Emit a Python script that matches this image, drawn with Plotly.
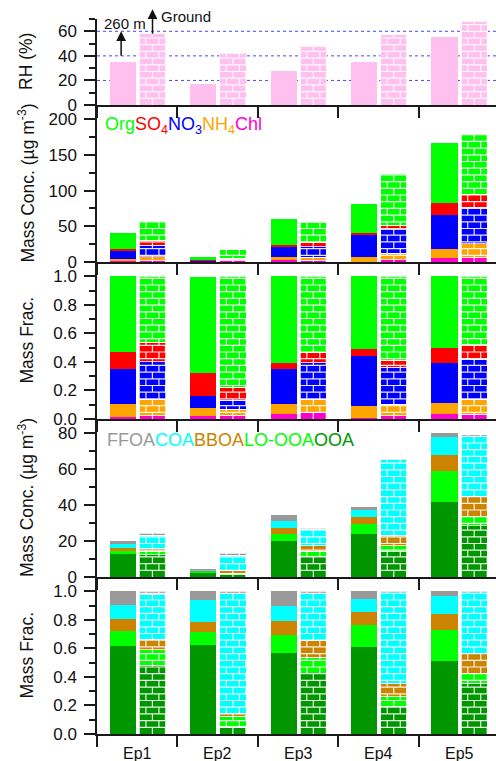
import plotly.graph_objects as go

# ---------------------------------------------------------------- data
episodes = ["Ep1", "Ep2", "Ep3", "Ep4", "Ep5"]

# relative humidity (%)
rh_260m = [35, 17, 28, 35, 55]
rh_ground = [58, 42, 48, 57, 68]
rh_gridlines = [20, 40, 60]

# PM1 species mass concentrations (ug m-3), 260 m site
chl_conc_260m = [0.8, 0.3, 2.8, 0.5, 5.6]
nh4_conc_260m = [3.4, 0.5, 4.2, 7.0, 12.6]
no3_conc_260m = [10.7, 0.6, 14.4, 29.8, 47.5]
so4_conc_260m = [3.3, 1.2, 2.8, 3.7, 16.8]
org_conc_260m = [22.4, 4.9, 35.9, 40.1, 83.9]
# PM1 species mass concentrations (ug m-3), ground site
chl_conc_ground = [1.9, 1.5, 2.3, 3.3, 7.0]
nh4_conc_ground = [5.6, 1.4, 4.7, 8.8, 18.6]
no3_conc_ground = [15.8, 1.0, 14.4, 33.1, 50.9]
so4_conc_ground = [7.0, 1.3, 6.6, 6.5, 18.6]
org_conc_ground = [27.0, 12.0, 27.9, 72.3, 84.9]

# PM1 species mass fractions, 260 m site
chl_frac_260m = [0.016, 0.021, 0.035, 0.009, 0.035]
nh4_frac_260m = [0.089, 0.056, 0.070, 0.082, 0.079]
no3_frac_260m = [0.245, 0.084, 0.247, 0.352, 0.280]
so4_frac_260m = [0.119, 0.163, 0.042, 0.047, 0.103]
org_frac_260m = [0.531, 0.669, 0.606, 0.510, 0.503]
# PM1 species mass fractions, ground site
chl_frac_ground = [0.023, 0.028, 0.044, 0.023, 0.035]
nh4_frac_ground = [0.117, 0.042, 0.096, 0.080, 0.105]
no3_frac_ground = [0.261, 0.061, 0.254, 0.261, 0.280]
so4_frac_ground = [0.137, 0.093, 0.075, 0.046, 0.102]
org_frac_ground = [0.462, 0.776, 0.531, 0.590, 0.478]

# OA factor mass concentrations (ug m-3), 260 m site
ooa_conc_260m = [12.9, 2.6, 20.0, 23.9, 41.8]
loooa_conc_260m = [1.5, 0.6, 3.9, 5.9, 17.3]
bboa_conc_260m = [1.8, 0.2, 3.5, 3.6, 9.0]
coa_conc_260m = [2.3, 0.5, 3.9, 3.9, 9.7]
ffoa_conc_260m = [1.5, 0.4, 3.2, 1.5, 2.2]
# OA factor mass concentrations (ug m-3), ground site
ooa_conc_ground = [12.5, 1.3, 11.6, 14.0, 28.5]
loooa_conc_ground = [1.9, 0.9, 2.8, 3.3, 5.1]
bboa_conc_ground = [1.3, 1.2, 3.1, 6.0, 11.0]
coa_conc_ground = [7.6, 8.7, 8.8, 42.0, 33.5]
ffoa_conc_ground = [1.1, 1.1, 0.9, 0.5, 1.2]

# OA factor mass fractions, 260 m site
ooa_frac_260m = [0.614, 0.621, 0.568, 0.607, 0.509]
loooa_frac_260m = [0.106, 0.092, 0.124, 0.155, 0.222]
bboa_frac_260m = [0.084, 0.074, 0.098, 0.091, 0.108]
coa_frac_260m = [0.098, 0.150, 0.105, 0.091, 0.128]
ffoa_frac_260m = [0.098, 0.063, 0.105, 0.056, 0.033]
# OA factor mass fractions, ground site
ooa_frac_ground = [0.480, 0.056, 0.421, 0.194, 0.357]
loooa_frac_ground = [0.110, 0.068, 0.116, 0.068, 0.066]
bboa_frac_ground = [0.075, 0.019, 0.120, 0.091, 0.142]
coa_frac_ground = [0.310, 0.841, 0.324, 0.642, 0.430]
ffoa_frac_ground = [0.025, 0.016, 0.019, 0.005, 0.005]

# ---------------------------------------------------------------- styles
FONT = "Liberation Sans, Arial, sans-serif"
AX = "#1a1a1a"
C_RH = "#FFBFEF"
C_ORG, C_SO4, C_NO3, C_NH4, C_CHL = "#00FF00", "#FF0000", "#0000FF", "#FFA500", "#FF00CC"
C_OOA, C_LOOOA, C_BBOA, C_COA, C_FFOA = "#009600", "#00FF00", "#CC8400", "#00FFFF", "#999999"
C_GRID = "#4646FF"

W, H = 496, 761
ML, MB = 97, 27
PW, PH = W - ML, H - MB
# panel extents in pixels from the top of the plotting area (top, bottom)
panel_px = [(19, 105), (105, 262), (262, 419), (419, 577), (577, 734)]
y_ranges = [[0, 70], [0, 220], [0, 1.1], [0, 88], [0, 1.1]]
y_dticks = [20, 50, 0.2, 20, 0.2]
y_minor = [10, 25, 0.1, 10, 0.1]
y_formats = ["d", "d", ".1f", "d", ".1f"]
x_range = [-0.5, 4.46]
BAR_W = 0.325
X_SOLID = [i - 0.18 for i in range(len(episodes))]
X_BRICK = [i + 0.19 for i in range(len(episodes))]

fig = go.Figure()


def axis_names(k):
    return ("x" if k == 1 else f"x{k}"), ("y" if k == 1 else f"y{k}")


def add_stack(k, solid_series, brick_series, colors):
    xa, ya = axis_names(k)
    for vals, col in zip(solid_series, colors):
        fig.add_trace(go.Bar(x=X_SOLID, y=vals, width=BAR_W, xaxis=xa, yaxis=ya,
                             marker=dict(color=col, line=dict(width=0)),
                             showlegend=False, hoverinfo="skip"))
    for vals, col in zip(brick_series, colors):
        fig.add_trace(go.Bar(x=X_BRICK, y=vals, width=BAR_W, xaxis=xa, yaxis=ya,
                             marker=dict(color=col,
                                         line=dict(width=1, color="rgba(255,255,255,0.75)")),
                             showlegend=False, hoverinfo="skip"))
    totals = [sum(v) for v in zip(*brick_series)]
    return totals


def brick_shape(k, totals):
    """White mortar lines drawn over the ground-site bars (brick fill)."""
    xa, ya = axis_names(k)
    top, bot = panel_px[k - 1]
    yr = y_ranges[k - 1]
    sy = (bot - top) / (yr[1] - yr[0])          # px per y unit
    sx = PW / (x_range[1] - x_range[0])          # px per x unit
    row = 6.7 / sy
    bw = 13.0 / sx
    parts = []
    for xc, tot in zip(X_BRICK, totals):
        x0, x1 = xc - BAR_W / 2, xc + BAR_W / 2
        r = 0
        while r * row < tot:
            ylo = r * row
            yhi = min((r + 1) * row, tot)
            if r > 0:
                parts.append(f"M{x0:.4f},{ylo:.4f}L{x1:.4f},{ylo:.4f}")
            off = bw if r % 2 == 0 else bw / 2
            xv = x0 + off
            while xv < x1 - 1e-6:
                parts.append(f"M{xv:.4f},{ylo:.4f}L{xv:.4f},{yhi:.4f}")
                xv += bw
            r += 1
    fig.add_shape(type="path", path="".join(parts), xref=xa, yref=ya,
                  line=dict(color="rgba(255,255,255,0.9)", width=1.2), layer="above")


# dotted reference lines in the RH panel, behind the bars
for g in rh_gridlines:
    fig.add_shape(type="line", xref="x domain", yref="y", x0=0, x1=1, y0=g, y1=g,
                  line=dict(color=C_GRID, width=1, dash="dot"), layer="below")

# panel 1: RH
t = add_stack(1, [rh_260m], [rh_ground], [C_RH])
brick_shape(1, t)

# panel 2: species concentrations
inorg_colors = [C_CHL, C_NH4, C_NO3, C_SO4, C_ORG]
t = add_stack(2,
              [chl_conc_260m, nh4_conc_260m, no3_conc_260m, so4_conc_260m, org_conc_260m],
              [chl_conc_ground, nh4_conc_ground, no3_conc_ground, so4_conc_ground, org_conc_ground],
              inorg_colors)
brick_shape(2, t)

# panel 3: species fractions
t = add_stack(3,
              [chl_frac_260m, nh4_frac_260m, no3_frac_260m, so4_frac_260m, org_frac_260m],
              [chl_frac_ground, nh4_frac_ground, no3_frac_ground, so4_frac_ground, org_frac_ground],
              inorg_colors)
brick_shape(3, t)

# panel 4: OA factor concentrations
oa_colors = [C_OOA, C_LOOOA, C_BBOA, C_COA, C_FFOA]
t = add_stack(4,
              [ooa_conc_260m, loooa_conc_260m, bboa_conc_260m, coa_conc_260m, ffoa_conc_260m],
              [ooa_conc_ground, loooa_conc_ground, bboa_conc_ground, coa_conc_ground, ffoa_conc_ground],
              oa_colors)
brick_shape(4, t)

# panel 5: OA factor fractions
t = add_stack(5,
              [ooa_frac_260m, loooa_frac_260m, bboa_frac_260m, coa_frac_260m, ffoa_frac_260m],
              [ooa_frac_ground, loooa_frac_ground, bboa_frac_ground, coa_frac_ground, ffoa_frac_ground],
              oa_colors)
brick_shape(5, t)

# ---------------------------------------------------------------- axes
layout_axes = {}
for k in range(1, 6):
    top, bot = panel_px[k - 1]
    dom = [(PH - bot) / PH, (PH - top) / PH]
    xa, ya = axis_names(k)
    xkey = "xaxis" if k == 1 else f"xaxis{k}"
    ykey = "yaxis" if k == 1 else f"yaxis{k}"
    layout_axes[xkey] = dict(
        domain=[0, 1], range=x_range, anchor=ya, showline=True, linecolor=AX, linewidth=1.5,
        ticks="outside", ticklen=11, tickwidth=1.5, tickcolor=AX,
        tickmode="array", tickvals=[-0.5, 0.5, 1.5, 2.5, 3.5], showticklabels=False,
        showgrid=False, zeroline=False, fixedrange=True)
    layout_axes[ykey] = dict(
        domain=dom, range=y_ranges[k - 1], anchor=xa, showline=True, linecolor=AX, linewidth=1.5,
        ticks="outside", ticklen=11, tickwidth=1.5, tickcolor=AX,
        dtick=y_dticks[k - 1], tick0=0, tickformat=y_formats[k - 1],
        tickfont=dict(family=FONT, size=17, color="#111"), ticklabelstandoff=4,
        minor=dict(dtick=y_minor[k - 1], tick0=0, ticks="outside", ticklen=6,
                   tickwidth=1.5, tickcolor=AX, showgrid=False),
        showgrid=False, zeroline=False, fixedrange=True)

# ---------------------------------------------------------------- text
ann = []
title_x = (26 - ML) / PW
y_titles = ["RH (%)", "Mass Conc. (µg m<sup>-3</sup>)", "Mass Frac.",
            "Mass Conc. (µg m<sup>-3</sup>)", "Mass Frac."]
for k, ttl in enumerate(y_titles, start=1):
    _, ya = axis_names(k)
    ann.append(dict(text=ttl, xref="paper", x=title_x, yref=f"{ya} domain", y=0.5,
                    xanchor="center", yanchor="middle", textangle=-90, showarrow=False,
                    font=dict(family=FONT, size=17.5, color="#111")))

for i, name in enumerate(episodes):
    ann.append(dict(text=name, xref="x5", x=i, yref="y5 domain", y=0, yshift=-19,
                    xanchor="center", yanchor="middle", showarrow=False,
                    font=dict(family=FONT, size=16, color="#111")))


def colored(label, color):
    return f"<span style='color:{color}'>{label}</span>"


species_legend = (colored("Org", C_ORG) + colored("SO<sub>4</sub>", C_SO4)
                  + colored("NO<sub>3</sub>", C_NO3) + colored("NH<sub>4</sub>", C_NH4)
                  + colored("Chl", C_CHL))
ann.append(dict(text=species_legend, xref="paper", x=(103 - ML) / PW, yref="y2 domain",
                y=(262 - 126) / 157, xanchor="left", yanchor="middle", showarrow=False,
                font=dict(family=FONT, size=18)))

oa_legend = (colored("FFOA", C_FFOA) + colored("COA", C_COA) + colored("BBOA", C_BBOA)
             + colored("LO-OOA", C_LOOOA) + colored("OOA", C_OOA))
ann.append(dict(text=oa_legend, xref="paper", x=(105 - ML) / PW, yref="y4 domain",
                y=(577 - 440) / 158, xanchor="left", yanchor="middle", showarrow=False,
                font=dict(family=FONT, size=18)))

# site markers in the RH panel (positions given as fractions of the RH axis span)
rh_top = y_ranges[0][1]
ann.append(dict(text="", x=X_SOLID[0] - 0.02, y=60 / rh_top, xref="x", yref="y domain",
                ax=0, ay=26, showarrow=True, arrowhead=2, arrowsize=1.3, arrowwidth=1.5,
                arrowcolor="#111"))
ann.append(dict(text="", x=X_BRICK[0], y=78 / rh_top, xref="x", yref="y domain",
                ax=0, ay=26, showarrow=True, arrowhead=2, arrowsize=1.3, arrowwidth=1.5,
                arrowcolor="#111"))
ann.append(dict(text="260 m", x=-0.44, y=66.7 / rh_top, xref="x", yref="y domain",
                xanchor="left", yanchor="middle", showarrow=False,
                font=dict(family=FONT, size=15, color="#111")))
ann.append(dict(text="Ground", x=0.27, y=72.4 / rh_top, xref="x", yref="y domain",
                xanchor="left", yanchor="middle", showarrow=False,
                font=dict(family=FONT, size=15, color="#111")))

fig.update_layout(
    width=W, height=H, margin=dict(l=ML, r=0, t=0, b=MB, pad=0),
    paper_bgcolor="white", plot_bgcolor="white", barmode="stack",
    font=dict(family=FONT, color="#111"), showlegend=False,
    annotations=ann, **layout_axes)

fig.write_html("out.html")
